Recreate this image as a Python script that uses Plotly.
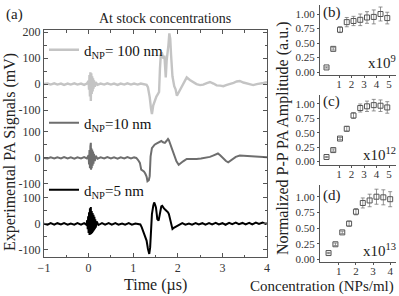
import plotly.graph_objects as go

# ---------------- data ----------------
signal_100nm = [
    (-1.0, 0), (-0.92, 2), (-0.85, -2), (-0.77, 3), (-0.7, -2), (-0.62, 2), (-0.55, -3), (-0.47, 2),
    (-0.4, -2), (-0.32, 3), (-0.25, -2), (-0.17, 2), (-0.1, -3), (-0.04, 2),
    (0.0, 12), (0.01, -22), (0.02, 35), (0.03, -48), (0.04, 45), (0.05, -65), (0.06, 42), (0.07, -38),
    (0.08, 30), (0.09, -28), (0.1, 22), (0.11, -18), (0.12, 14), (0.14, -10), (0.16, 7), (0.2, -3),
    (0.27, 2), (0.35, -2), (0.42, 3), (0.5, -2), (0.57, 2), (0.65, -3), (0.72, 2), (0.8, -2), (0.87, 3),
    (0.95, -2), (1.02, 2), (1.1, -2), (1.17, 2), (1.25, -1), (1.3, -3),
    (1.33, -12), (1.37, -50), (1.4, -95), (1.42, -115), (1.45, -82), (1.48, -64), (1.52, -48), (1.55, -40),
    (1.58, -30), (1.6, 60), (1.62, 115), (1.64, 122), (1.66, 105), (1.68, 98), (1.7, 110), (1.72, 40),
    (1.73, 26), (1.75, 90), (1.77, 112), (1.79, 150), (1.81, 195), (1.83, 175), (1.85, 110), (1.88, 30),
    (1.92, -8), (1.95, -20), (1.98, -45), (2.02, -32), (2.08, -15), (2.14, 6), (2.2, 26), (2.27, 16),
    (2.35, 6), (2.42, 0), (2.5, -4), (2.57, -2), (2.65, 4), (2.72, 8), (2.8, 2), (2.87, -5), (2.95, -6),
    (3.02, -8), (3.1, -3), (3.17, 0), (3.25, 5), (3.32, 10), (3.39, 12), (3.47, 6), (3.54, 2), (3.62, -3),
    (3.69, -4), (3.77, 0), (3.84, 1), (3.92, 4), (4.0, 7),
]

signal_10nm = [
    (-1.0, 0), (-0.92, -2), (-0.85, 2), (-0.77, -2), (-0.7, 2), (-0.62, -2), (-0.55, 3), (-0.47, -2),
    (-0.4, 2), (-0.32, -3), (-0.25, 2), (-0.17, -2), (-0.1, 3), (-0.04, -2),
    (0.0, 10), (0.01, -25), (0.02, 30), (0.03, -40), (0.04, 45), (0.05, 58), (0.055, -45), (0.06, 38),
    (0.07, -40), (0.08, 32), (0.09, -30), (0.1, 25), (0.11, -22), (0.12, 16), (0.14, -12), (0.16, 8), (0.2, -3),
    (0.27, 2), (0.35, -2), (0.42, 3), (0.5, -2), (0.57, 2), (0.65, -3), (0.72, 2), (0.8, -2), (0.87, 3),
    (0.95, -2), (1.02, 2), (1.07, 0), (1.11, -8), (1.15, -19), (1.18, -45), (1.21, -48), (1.24, -52),
    (1.27, -60), (1.3, -72), (1.32, -90), (1.35, -86), (1.37, -70), (1.39, 6), (1.42, 38), (1.45, 46),
    (1.48, 51), (1.52, 55), (1.56, 58), (1.6, 62), (1.63, 65), (1.67, 60), (1.71, 58), (1.75, 66),
    (1.78, 73), (1.8, 68), (1.82, 58), (1.86, 35), (1.89, 19), (1.93, 0), (1.97, -13), (2.02, -26),
    (2.06, -22), (2.12, -13), (2.2, -4), (2.3, -5), (2.42, -4), (2.52, -2), (2.64, 0), (2.72, 4),
    (2.79, 9), (2.85, 13), (2.9, 17), (2.95, 10), (3.02, -4), (3.08, -12), (3.13, -17), (3.18, -10),
    (3.24, -4), (3.3, 4), (3.39, 9), (3.5, 8), (3.6, 6), (3.69, 6), (3.8, 5), (3.9, 4), (4.0, 3),
]

signal_5nm = [
    (-1.0, 1), (-0.92, -3), (-0.85, 3), (-0.77, -3), (-0.7, 3), (-0.62, -2), (-0.55, 3), (-0.47, -3),
    (-0.4, 2), (-0.32, -3), (-0.25, 3), (-0.17, -3), (-0.1, 3), (-0.05, -3),
    (-0.03, 15), (-0.02, -20), (-0.01, 30), (0.0, -35), (0.01, 45), (0.02, -42), (0.03, 60), (0.04, -40),
    (0.05, 65), (0.06, -38), (0.07, 50), (0.08, -35), (0.09, 42), (0.1, -30), (0.11, 35), (0.12, -25),
    (0.13, 28), (0.14, -20), (0.15, 18), (0.16, -14), (0.18, 10), (0.22, -4),
    (0.3, 3), (0.37, -3), (0.45, 3), (0.52, -3), (0.6, 3), (0.67, -3), (0.75, 2), (0.82, -3), (0.9, 3),
    (0.97, -3), (1.05, 2), (1.12, -2), (1.16, -2), (1.19, -12), (1.22, -26), (1.26, -40), (1.3, -64),
    (1.33, -95), (1.36, -115), (1.38, -90), (1.39, -64), (1.41, 5), (1.42, 38), (1.45, 70), (1.47, 83),
    (1.49, 75), (1.51, 64), (1.53, 35), (1.54, 19), (1.57, 13), (1.59, 35), (1.61, 58), (1.63, 68),
    (1.65, 70), (1.67, 62), (1.69, 60), (1.72, 55), (1.75, 51), (1.78, 45), (1.8, 38), (1.82, 20),
    (1.84, 6), (1.86, -8), (1.88, -19), (1.9, -16), (1.93, -13), (1.98, -8), (2.04, -3),
    (2.1, 3), (2.17, -3), (2.25, 2), (2.32, -3), (2.4, 3), (2.47, -2), (2.55, 3), (2.62, -3), (2.7, 3),
    (2.77, -2), (2.85, 4), (2.92, -2), (3.0, 3), (3.07, -3), (3.15, 4), (3.22, -1), (3.3, 5), (3.37, -1),
    (3.45, 4), (3.52, -2), (3.6, 4), (3.67, -2), (3.75, 5), (3.82, 0), (3.9, 5), (3.97, 0), (4.0, 3),
]

series_names = ["d<sub>NP</sub>= 100 nm", "d<sub>NP</sub>=10 nm", "d<sub>NP</sub>=5 nm"]
series_offsets = [538, 254, 0]          # vertical stacking of the traces (mV)
y_tick_labels = [200, 100, 0, -100, 100, 0, -100, 100, 0, -100]
y_tick_owner = [0, 0, 0, 0, 1, 1, 1, 2, 2, 2]
time_ticks = [-1, 0, 1, 2, 3, 4]

conc_b = [0.0, 0.54, 1.08, 1.62, 2.16, 2.7, 3.24, 3.78, 4.32, 4.86]
amp_b = [0.08, 0.4, 0.73, 0.86, 0.88, 0.9, 0.94, 0.95, 1.0, 0.93]
err_b = [0.01, 0.02, 0.05, 0.08, 0.08, 0.1, 0.1, 0.12, 0.12, 0.1]

conc_c = [0.0, 0.54, 1.08, 1.62, 2.16, 2.7, 3.24, 3.78, 4.32, 4.86]
amp_c = [0.08, 0.2, 0.4, 0.57, 0.8, 0.93, 0.96, 0.98, 0.97, 0.94]
err_c = [0.01, 0.02, 0.02, 0.04, 0.05, 0.07, 0.09, 0.1, 0.1, 0.1]

conc_d = [0.4, 0.8, 1.2, 1.6, 2.0, 2.4, 2.8, 3.2, 3.6, 4.0]
amp_d = [0.1, 0.24, 0.43, 0.57, 0.76, 0.9, 0.94, 1.0, 0.99, 0.96]
err_d = [0.01, 0.02, 0.02, 0.04, 0.05, 0.08, 0.1, 0.12, 0.12, 0.12]

amp_ticks = [0, 0.25, 0.5, 0.75, 1.0]
panel_labels = ["(b)", "(c)", "(d)"]
scale_labels = ["x10<sup>9</sup>", "x10<sup>12</sup>", "x10<sup>13</sup>"]

# ---------------- figure ----------------
W, H = 399, 296
SERIF = "Liberation Serif, Times New Roman, serif"
AX = "#555555"
line_colors = ["#c4c4c4", "#6e6e6e", "#000000"]
line_widths = [2.4, 2.0, 2.0]


def px_x(p):
    return p / W


def px_y(p):
    return 1 - p / H


fig = go.Figure()

signals = [signal_100nm, signal_10nm, signal_5nm]
legend_ids = ["legend", "legend2", "legend3"]
for sig, name, off, col, lw, lg in zip(signals, series_names, series_offsets, line_colors,
                                       line_widths, legend_ids):
    t = [p[0] for p in sig]
    v = [p[1] + off for p in sig]
    fig.add_trace(go.Scatter(x=t, y=v, mode="lines", name=name,
                             line=dict(color=col, width=lw), legend=lg,
                             xaxis="x", yaxis="y", hoverinfo="skip"))

tickvals = [series_offsets[o] + lab for o, lab in zip(y_tick_owner, y_tick_labels)]
minor_vals = []
for off in series_offsets:
    minor_vals += [off - 50, off + 50]
minor_vals += [series_offsets[0] + 150, series_offsets[0] + 250]

panels = [(conc_b, amp_b, err_b), (conc_c, amp_c, err_c), (conc_d, amp_d, err_d)]
for i, (cx, ay, er) in enumerate(panels):
    fig.add_trace(go.Scatter(x=cx, y=ay, mode="markers", showlegend=False,
                             marker=dict(symbol="square-open", size=5, color="#555555",
                                         line=dict(width=1)),
                             error_y=dict(type="data", array=er, visible=True,
                                          color="#777777", thickness=0.8, width=2),
                             xaxis=f"x{i + 2}", yaxis=f"y{i + 2}", hoverinfo="skip"))

main_left, main_right, main_top, main_bottom = 44, 267, 30, 257
font_tick = dict(family=SERIF, size=12, color="#333333")

layout = dict(
    width=W, height=H, margin=dict(l=0, r=0, t=0, b=0, autoexpand=False),
    paper_bgcolor="white", plot_bgcolor="white",
    font=dict(family=SERIF, color="#222222"),
    xaxis=dict(domain=[px_x(main_left), px_x(main_right)], range=[-1, 4], automargin=False,
               tickvals=time_ticks, ticks="inside", ticklen=4, tickcolor=AX,
               minor=dict(tickvals=[-0.5, 0.5, 1.5, 2.5, 3.5], ticks="inside", ticklen=2.5, tickcolor=AX),
               showline=True, linecolor=AX, linewidth=1, mirror="ticks",
               showgrid=False, zeroline=False, tickfont=font_tick, anchor="y"),
    yaxis=dict(domain=[px_y(main_bottom), px_y(main_top)], range=[-127, 746], automargin=False,
               tickvals=tickvals, ticktext=[str(l) for l in y_tick_labels],
               ticks="inside", ticklen=4, tickcolor=AX,
               minor=dict(tickvals=minor_vals, ticks="inside", ticklen=2.5, tickcolor=AX),
               showline=True, linecolor=AX, linewidth=1, mirror="ticks",
               showgrid=False, zeroline=False, tickfont=font_tick, anchor="x"),
)

legend_y_px = [50, 123, 190]
for lg, ypx in zip(legend_ids, legend_y_px):
    layout[lg] = dict(x=px_x(44), y=px_y(ypx), xanchor="left", yanchor="middle",
                      bgcolor="rgba(0,0,0,0)", borderwidth=0,
                      font=dict(family=SERIF, size=15, color="#111111"),
                      tracegroupgap=0, itemwidth=30)

panel_y = [(5, 75, -0.05, 1.155), (95, 164.5, -0.05, 1.156), (185, 262, -0.043, 1.187)]
panel_x = [(-0.52, 5.56, [1, 2, 3, 4, 5]), (-0.52, 5.56, [1, 2, 3, 4, 5]), (-0.1, 4.34, [1, 2, 3, 4])]
small_tick = dict(family=SERIF, size=11, color="#333333")
for i in range(3):
    top, bot, y0, y1 = panel_y[i]
    x0, x1, xt = panel_x[i]
    layout[f"xaxis{i + 2}"] = dict(domain=[px_x(320), px_x(396)], range=[x0, x1], tickvals=xt,
                                   ticks="outside", ticklen=2, tickcolor=AX, showline=True,
                                   linecolor=AX, linewidth=1, showgrid=False, zeroline=False,
                                   automargin=False, ticklabelstandoff=-3,
                                   tickfont=small_tick, anchor=f"y{i + 2}")
    layout[f"yaxis{i + 2}"] = dict(domain=[px_y(bot), px_y(top)], range=[y0, y1], tickvals=amp_ticks,
                                   tickformat=".2f", ticks="outside", ticklen=2, tickcolor=AX,
                                   showline=True, linecolor=AX, linewidth=1, showgrid=False,
                                   automargin=False,
                                   zeroline=False, tickfont=small_tick, anchor=f"x{i + 2}")

fig.update_layout(**layout)

ann = []
ann.append(dict(text="(a)", x=px_x(4), y=px_y(15), xanchor="left", yanchor="middle",
                font=dict(size=15)))
ann.append(dict(text="At stock concentrations", x=px_x(165), y=px_y(18), xanchor="center",
                yanchor="middle", font=dict(size=14)))
ann.append(dict(text="Experimental PA Signals (mV)", x=px_x(10), y=px_y(152), textangle=-90,
                xanchor="center", yanchor="middle", font=dict(size=16)))
ann.append(dict(text="Time (µs)", x=px_x(155), y=px_y(285), xanchor="center", yanchor="middle",
                font=dict(size=16)))
ann.append(dict(text="Normalized P-P PA Amplitude (a.u.)", x=px_x(283), y=px_y(139), textangle=-90,
                xanchor="center", yanchor="middle", font=dict(size=16)))
ann.append(dict(text="Concentration (NPs/ml)", x=px_x(322), y=px_y(286), xanchor="center",
                yanchor="middle", font=dict(size=15)))
label_y = [12, 102, 195]
scale_y = [62, 154, 250]
for i in range(3):
    ann.append(dict(text=panel_labels[i], x=px_x(321), y=px_y(label_y[i]), xanchor="left",
                    yanchor="middle", font=dict(size=15)))
    ann.append(dict(text=scale_labels[i], x=px_x(398), y=px_y(scale_y[i]), xanchor="right",
                    yanchor="middle", font=dict(size=15)))
for a in ann:
    a.update(xref="paper", yref="paper", showarrow=False)
    a["font"] = dict(family=SERIF, color="#222222", **a["font"])
fig.update_layout(annotations=ann)

fig.write_html("out.html", config={"displayModeBar": False},
               post_script="document.body.style.margin='0';")
